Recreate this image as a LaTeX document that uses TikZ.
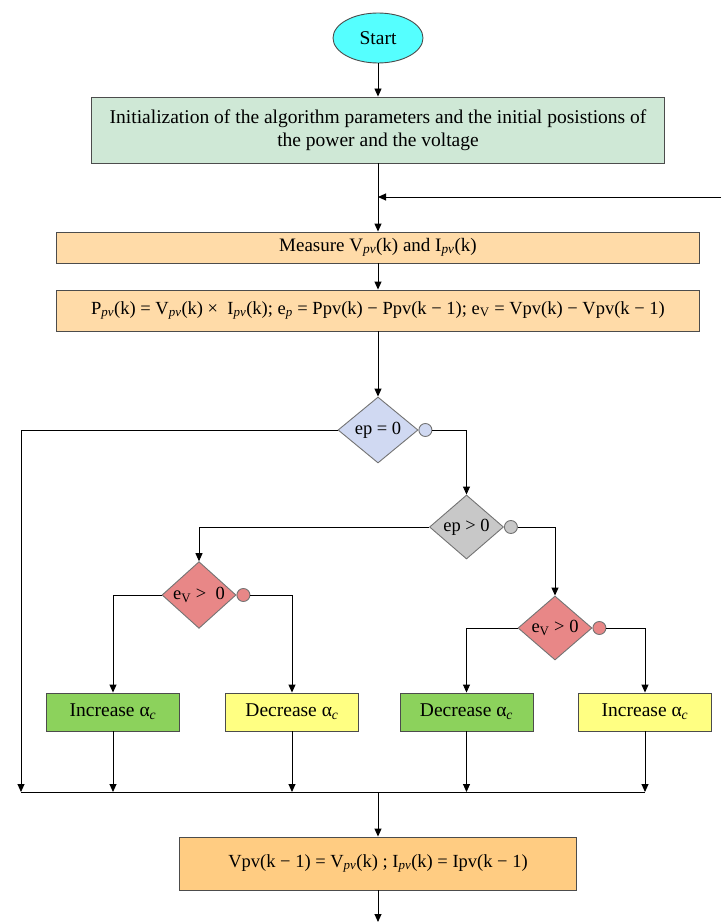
\documentclass[tikz,border=0pt]{standalone}
\usepackage{fontspec}
\setmainfont{Liberation Serif}
\usepackage{xcolor}
\usetikzlibrary{arrows.meta, positioning, shapes.geometric}

\definecolor{startcyan}{HTML}{55FFFF}
\definecolor{initgreen}{HTML}{CFE8D6}
\definecolor{peach}{HTML}{FFDBA8}
\definecolor{updorange}{HTML}{FFCC82}
\definecolor{decblue}{HTML}{D0D9F2}
\definecolor{decgray}{HTML}{C8C8C8}
\definecolor{decred}{HTML}{E88787}
\definecolor{actgreen}{HTML}{8CD25C}
\definecolor{actyellow}{HTML}{FFFF82}

\newcommand{\pvsub}{\textsubscript{\itshape pv}}
\newcommand{\alphac}{α\textsubscript{\itshape c}}

\begin{document}
\begin{tikzpicture}[
    x=1pt, y=-1pt,
    font=\fontsize{19.5}{23}\selectfont,
    line width=0.9pt,
    >={Triangle[length=8pt,width=7pt]},
    block/.style={draw=black!70, fill=#1, inner sep=2pt, align=center},
    act/.style={block=#1, minimum width=133pt, minimum height=38pt},
    dec/.style={diamond, draw=black!55, fill=#1, inner sep=0pt,
        minimum width=74pt, minimum height=64pt, font=\fontsize{18.5}{22}\selectfont},
    nocirc/.style={circle, draw=black!55, fill=#1, minimum size=13pt, inner sep=0pt},
    arr/.style={->},
]
\useasboundingbox (0,0) rectangle (721,923);

\node[ellipse, draw=black!70, fill=startcyan, minimum width=90pt, minimum height=50pt] (start) at (378,38) {Start};
\node[block=initgreen, minimum width=573pt, minimum height=66pt] (init) at (378,130)
    {Initialization of the algorithm parameters and the initial posistions of\\the power and the voltage};
\node[block=peach, minimum width=643pt, minimum height=31pt, font=\fontsize{19}{22}\selectfont] (meas) at (378,247.5)
    {Measure V\pvsub(k) and I\pvsub(k)};
\node[block=peach, minimum width=643pt, minimum height=41pt, font=\fontsize{18.5}{22}\selectfont] (calc) at (378,310.5)
    {P\pvsub(k) = V\pvsub(k) ×\ \ I\pvsub(k); e\textsubscript{\itshape p} = Ppv(k) − Ppv(k − 1); e\textsubscript{V} = Vpv(k) − Vpv(k − 1)};

%% Decisions
\node[dec=decblue, minimum width=80pt, minimum height=66pt] (ep0) at (378,430) {ep = 0};
\node[nocirc=decblue, right=0pt of ep0] (c1) {};
\node[dec=decgray] (ep1) at (466.5,527) {ep > 0};
\node[nocirc=decgray, right=0pt of ep1] (c2) {};
\node[dec=decred] (ev1) at (199,595) {e\textsubscript{V} > \ 0};
\node[nocirc=decred, right=0pt of ev1] (c3) {};
\node[dec=decred] (ev2) at (555,628) {e\textsubscript{V} > 0};
\node[nocirc=decred, right=0pt of ev2] (c4) {};

%% Actions
\node[act=actgreen]  (b1) at (113,712) {Increase \alphac};
\node[act=actyellow] (b2) at (292,712) {Decrease \alphac};
\node[act=actgreen]  (b3) at (466.5,712) {Decrease \alphac};
\node[act=actyellow] (b4) at (645,712) {Increase \alphac};

\node[block=updorange, minimum width=397pt, minimum height=53pt, font=\fontsize{18.5}{22}\selectfont] (upd) at (378,863.5)
    {Vpv(k − 1) = V\pvsub(k) ; I\pvsub(k) = Ipv(k − 1)};

\coordinate (fb) at (721,197);
\coordinate (m0) at (21,792);
\coordinate (m1) at (378,792);
\coordinate (out) at (378,922);

%% Arrows
\draw[arr] (start) -- (init);
\draw[arr] (init) -- (meas);
\draw[arr] (fb) -- (fb -| init.south);
\draw[arr] (meas) -- (calc);
\draw[arr] (calc) -- (ep0);
\draw[arr] (ep0.west) -| (m0);
\draw[arr] (c1.east) -| (ep1.north);
\draw[arr] (ep1.west) -| (ev1.north);
\draw[arr] (c2.east) -| (ev2.north);
\draw[arr] (ev1.west) -| (b1.north);
\draw[arr] (c3.east) -| (b2.north);
\draw[arr] (ev2.west) -| (b3.north);
\draw[arr] (c4.east) -| (b4.north);
\draw[arr] (b1.south) -- (b1.south |- m0);
\draw[arr] (b2.south) -- (b2.south |- m0);
\draw[arr] (b3.south) -- (b3.south |- m0);
\draw[arr] (b4.south) -- (b4.south |- m0);
\draw (m0) -- (b4.south |- m0);
\draw[arr] (m1) -- (upd);
\draw[arr] (upd) -- (out);
\end{tikzpicture}
\end{document}
